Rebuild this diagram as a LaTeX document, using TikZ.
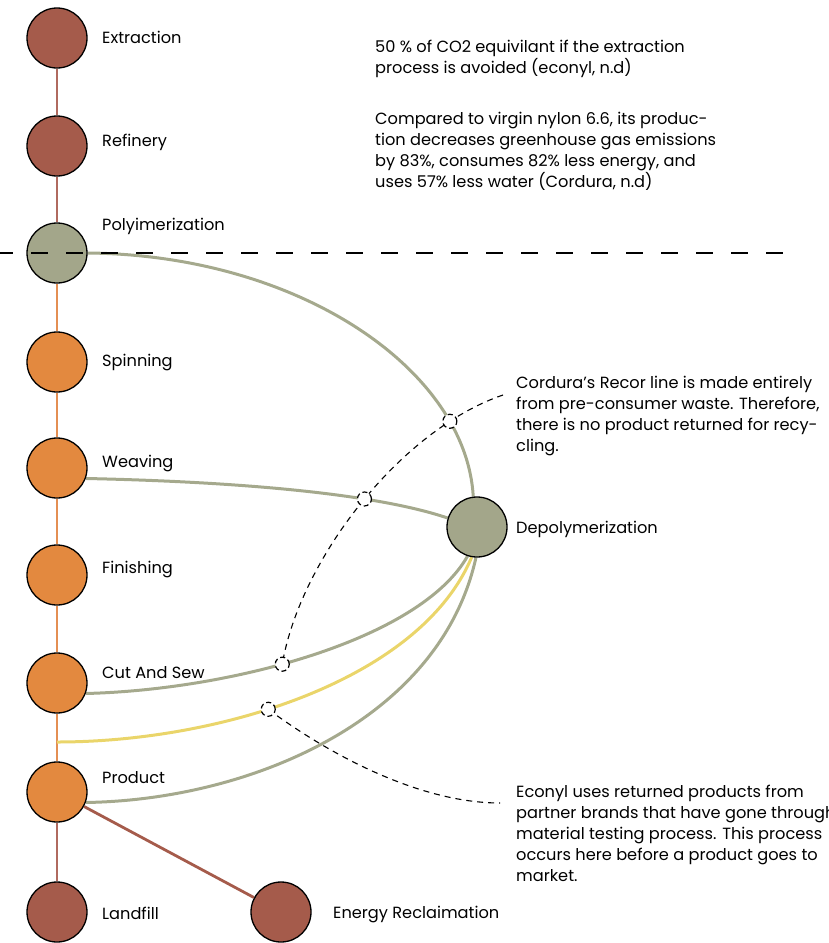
\documentclass[tikz,border=0pt]{standalone}
\usepackage{fontspec}
\setmainfont{Poppins}
\usetikzlibrary{backgrounds,intersections}
\definecolor{brn}{HTML}{A55B4B}
\definecolor{brnline}{HTML}{B06A5F}
\definecolor{org}{HTML}{E3893F}
\definecolor{orgline}{HTML}{E48F53}
\definecolor{sage}{HTML}{A3A68A}
\definecolor{sageline}{HTML}{A5A98D}
\definecolor{ylw}{HTML}{EAD56A}
\tikzset{
  stage/.style={circle, draw=black, line width=1.3pt, minimum size=60pt, inner sep=0pt},
  lbl/.style={anchor=base west, inner sep=0pt, font=\fontsize{16.2}{21}\selectfont},
  note/.style={anchor=base west, inner sep=0pt, align=left, font=\fontsize{16.2}{21}\selectfont},
  flow/.style={line width=3pt},
  link/.style={line width=2.8pt},
  hop/.style={circle, draw=black, fill=white, minimum size=14pt, inner sep=0pt, line width=1.2pt, dash pattern=on 5pt off 3pt},
  lead/.style={draw=black, line width=1.1pt, dash pattern=on 6pt off 5pt},
}
\begin{document}
\begin{tikzpicture}[x=1pt,y=-1pt]
\useasboundingbox (0,0) rectangle (828,943);
% stages
\node[stage, fill=brn] (extr) at (57,38) {};
\node[stage, fill=brn] (refi) at (57,146) {};
\node[stage, fill=sage] (poly) at (57,253) {};
\node[stage, fill=org] (spin) at (57,362) {};
\node[stage, fill=org] (weav) at (57,468) {};
\node[stage, fill=org] (fini) at (57,575) {};
\node[stage, fill=org] (cuts) at (57,683) {};
\node[stage, fill=org] (prod) at (57,792) {};
\node[stage, fill=brn] (land) at (57,912) {};
\node[stage, fill=brn] (ener) at (281,912) {};
\node[stage, fill=sage] (depo) at (477,527) {};
% labels
\node[lbl] (lextr) at (102,43) {Extraction};
\node[lbl] (lrefi) at (102,146) {Refinery};
\node[lbl] (lpoly) at (102,230) {Polyimerization};
\node[lbl] (lspin) at (102,366) {Spinning};
\node[lbl] (lweav) at (102,467) {Weaving};
\node[lbl] (lfini) at (102,573) {Finishing};
\node[lbl] (lcuts) at (102,678) {Cut And Sew};
\node[lbl] (lprod) at (102,783) {Product};
\node[lbl] (lland) at (102,919) {Landfill};
\node[lbl] (lener) at (333,918) {Energy Reclaimation};
\node[lbl] (ldepo) at (516,533) {Depolymerization};
% notes (anchored at the baseline of their last line)
\node[note] (n1) at (375,73) {50 \% of CO2 equivilant if the extraction\\process is avoided (econyl, n.d)};
\node[note] (n2) at (375,187) {Compared to virgin nylon 6.6, its produc-\\tion decreases greenhouse gas emissions\\by 83\%, consumes 82\% less energy, and\\uses 57\% less water (Cordura, n.d)};
\node[note] (n3) at (516,451) {Cordura’s Recor line is made entirely\\from pre-consumer waste. Therefore,\\there is no product returned for recy-\\cling.};
\node[note] (n4) at (516,881) {Econyl uses returned products from\\partner brands that have gone through\\material testing process. This process\\occurs here before a product goes to\\market.};
% connectors
\begin{scope}[on background layer]
  \draw[brnline, link] (extr) -- (refi);
  \draw[brnline, link] (refi) -- (poly);
  \draw[orgline, link] (poly) -- (spin);
  \draw[orgline, link] (spin) -- (weav);
  \draw[orgline, link] (weav) -- (fini);
  \draw[orgline, link] (fini) -- (cuts);
  \draw[orgline, link] (cuts) -- (prod);
  \draw[brnline, link] (prod) -- (land);
  \draw[brn, link] (prod) -- (ener);
  \coordinate (ystart) at (57,742);
  \draw[flow, sageline, name path global=topc] (poly.east) .. controls (300,255) and (466,370) .. (depo.97);
  \draw[flow, sageline, name path global=weavc] (weav.-20) .. controls (250,482) and (380,495) .. (depo.163);
  \draw[flow, sageline] (cuts.-20) .. controls (230,690) and (420,640) .. (depo.252) coordinate[pos=0.43] (xcut);
  \draw[flow, ylw] (ystart) .. controls (220,742) and (420,680) .. (depo.260) coordinate[pos=0.42] (xyel);
  \draw[flow, sageline] (prod.-20) .. controls (250,800) and (440,720) .. (depo.268);
\end{scope}
% dashed divider
\coordinate (dl) at (-4,253);
\coordinate (dr) at (783,253);
\draw[black, line width=1.3pt, dash pattern=on 17pt off 18pt] (dl) -- (dr);
% leader lines
\coordinate (astart) at (503,395);
\coordinate (bend) at (500,803);
\draw[lead, name path global=leadA] (astart) .. controls (400,430) and (300,560) .. (xcut);
\draw[lead] (xyel) .. controls (330,755) and (420,803) .. (bend);
\path[name intersections={of=topc and leadA, by={h1}}];
\path[name intersections={of=weavc and leadA, by={h2}}];
\node[hop] (hop1) at (h1) {};
\node[hop] (hop2) at (h2) {};
\node[hop] (hop3) at (xcut) {};
\node[hop] (hop4) at (xyel) {};
\end{tikzpicture}
\end{document}
